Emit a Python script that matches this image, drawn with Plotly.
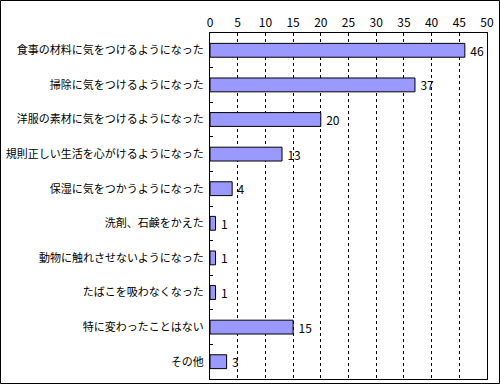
import plotly.graph_objects as go

categories = ["食事の材料に気をつけるようになった", "掃除に気をつけるようになった", "洋服の素材に気をつけるようになった",
              "規則正しい生活を心がけるようになった", "保湿に気をつかうようになった", "洗剤、石鹸をかえた",
              "動物に触れさせないようになった", "たばこを吸わなくなった", "特に変わったことはない", "その他"]
values = [46, 37, 20, 13, 4, 1, 1, 1, 15, 3]

W, H = 500, 385
L, R, T, B = 210, 13, 33, 6
pw, ph = W - L - R, H - T - B

font = "Noto Sans CJK JP"
fig = go.Figure(go.Bar(
    x=values, y=categories, orientation="h",
    marker=dict(color="#9999FF", line=dict(color="black", width=1)),
    text=["\u2009" + str(v) for v in values], textposition="outside",
    textfont=dict(size=12, color="black", family=font),
    constraintext="none",
    cliponaxis=False, width=0.4, hoverinfo="skip",
))
fig.update_layout(
    width=W, height=H, margin=dict(l=L, r=R, t=T, b=B, autoexpand=False),
    paper_bgcolor="white", plot_bgcolor="white", showlegend=False,
    font=dict(family=font, size=11, color="black"),
    xaxis=dict(side="top", range=[0, 50], dtick=5, showgrid=True, gridcolor="black",
               griddash="3px,3px", gridwidth=1, showline=True, mirror=True, linecolor="black",
               linewidth=1, ticks="", zeroline=False, tickfont=dict(size=12), automargin=False),
    yaxis=dict(autorange="reversed", showline=True, mirror=True, linecolor="black", linewidth=1,
               ticks="inside", tickson="boundaries", ticklen=3, tickcolor="black",
               ticklabelstandoff=3, tickfont=dict(size=11), automargin=False),
    shapes=[dict(type="rect", xref="paper", yref="paper",
                 x0=(0.5 - L) / pw, x1=(W - 0.5 - L) / pw,
                 y0=-(B - 1.5) / ph, y1=1 + (T - 0.5) / ph,
                 line=dict(color="black", width=1))],
)
fig.write_html("out.html", config={"displayModeBar": False},
               post_script="document.body.style.margin='0';document.body.style.overflow='hidden';")
